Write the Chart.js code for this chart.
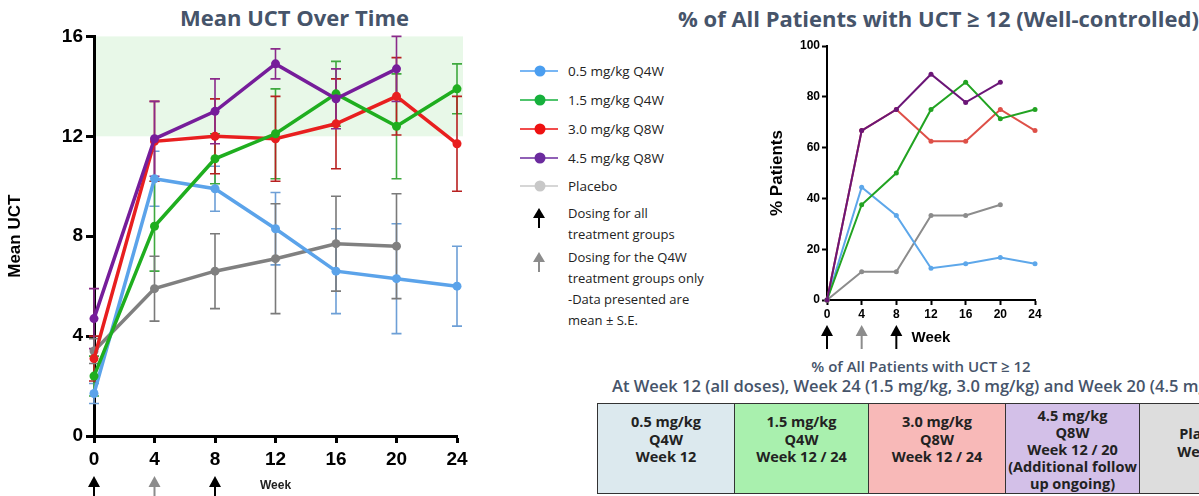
<!DOCTYPE html>
<html>
<head>
<meta charset="utf-8">
<script src="https://cdn.jsdelivr.net/npm/chart.js@4.4.1/dist/chart.umd.min.js"></script>
<style>
html, body { margin: 0; padding: 0; background: #fff; }
body { width: 1199px; height: 496px; overflow: hidden; position: relative; font-family: "Open Sans", sans-serif; }
.title { position: absolute; font-weight: 700; font-size: 22px; color: #46546a; white-space: nowrap; }
#leftWrap { position: absolute; left: 0; top: 22px; width: 480px; height: 474px; }
#rightWrap { position: absolute; left: 760px; top: 30px; width: 300px; height: 320px; }
#legend { position: absolute; left: 520px; top: 57px; font-size: 13.5px; color: #222; }
.row { height: 28.75px; display: flex; align-items: center; }
.row svg { margin-right: 10px; }
.note { position: absolute; left: 48px; line-height: 21px; font-size: 13px; white-space: nowrap; }
.arrow { position: absolute; left: 12px; }
.sub { position: absolute; font-weight: 600; color: #46546a; white-space: nowrap; }
#table { position: absolute; left: 597px; top: 403px; border-collapse: collapse; }
#table td { border: 1px solid #333; padding: 0; text-align: center; vertical-align: top;
  font-weight: 700; font-size: 14.5px; line-height: 17.5px; color: #222; }
</style>
</head>
<body>
<div class="title" style="left:180px;top:2px;">Mean UCT Over Time</div>
<div class="title" style="left:678px;top:3px;">% of All Patients with UCT ≥ 12 (Well-controlled)</div>

<div id="leftWrap"><canvas id="meanChart"></canvas></div>
<div id="rightWrap"><canvas id="pctChart"></canvas></div>

<div id="legend"></div>

<div class="sub" style="left:612px;width:618px;text-align:center;top:356px;font-size:15px;">% of All Patients with UCT ≥ 12</div>
<div class="sub" style="left:612px;top:374px;font-size:16.5px;">At Week 12 (all doses), Week 24 (1.5 mg/kg, 3.0 mg/kg) and Week 20 (4.5 mg/kg)</div>

<table id="table"><tr></tr></table>

<script>
const weeks = [0, 4, 8, 12, 16, 20, 24];
const seriesNames = ["0.5 mg/kg Q4W", "1.5 mg/kg Q4W", "3.0 mg/kg Q8W", "4.5 mg/kg Q8W", "Placebo"];

// mean UCT and standard error per week
const meanLow = [1.7, 10.3, 9.9, 8.3, 6.6, 6.3, 6.0];
const seLow = [0.4, 1.1, 0.9, 1.45, 1.7, 2.2, 1.6];
const meanMid = [2.4, 8.4, 11.1, 12.1, 13.7, 12.4, 13.9];
const seMid = [0.8, 1.8, 1.0, 1.8, 1.3, 2.1, 1.0];
const meanHigh = [3.1, 11.8, 12.0, 11.9, 12.5, 13.6, 11.7];
const seHigh = [0.9, 1.6, 1.5, 1.7, 1.8, 1.55, 1.9];
const meanTop = [4.7, 11.9, 13.0, 14.9, 13.5, 14.7, null];
const seTop = [1.2, 1.5, 1.3, 0.6, 1.2, 1.3, null];
const meanPlacebo = [3.4, 5.9, 6.6, 7.1, 7.7, 7.6, null];
const sePlacebo = [0.5, 1.3, 1.5, 2.2, 1.9, 2.1, null];

// % of patients with UCT >= 12
const pctLow = [0, 44.4, 33.3, 12.5, 14.3, 16.7, 14.3];
const pctMid = [0, 37.5, 50, 75, 85.7, 71.4, 75];
const pctHigh = [0, 66.7, 75, 62.5, 62.5, 75, 66.7];
const pctTop = [0, 66.7, 75, 88.9, 77.8, 85.7, null];
const pctPlacebo = [0, 11.1, 11.1, 33.3, 33.3, 37.5, null];

const doseWeeks = [0, 4, 8];
const doseAll = [true, false, true];

const tableCells = [
    ["0.5 mg/kg", "Q4W", "Week 12"],
    ["1.5 mg/kg", "Q4W", "Week 12 / 24"],
    ["3.0 mg/kg", "Q8W", "Week 12 / 24"],
    ["4.5 mg/kg", "Q8W", "Week 12 / 20", "(Additional follow", "up ongoing)"],
    ["Placebo", "Week 20"]
];

const lineColors = ["#5ba3ea", "#1fae1f", "#e81f1f", "#761d9a", "#808080"];
const errColors = ["#6d9fd6", "#3fa93f", "#b82020", "#8a2a8a", "#7a7a7a"];
const pctColors = ["#5da7ea", "#22a322", "#de5048", "#6b1677", "#8c8c8c"];
const legendColors = ["#4b9ef0", "#16b03c", "#ee1111", "#6b2b9e", "#c8c8c8"];
const cellColors = ["#dce9ee", "#a9f0ae", "#f8b9b8", "#d3c0e8", "#dddddd"];
const cellWidths = [136, 133, 136, 133, 135];
const cellPadTop = [9, 9, 9, 3, 21];

const toPoints = (vals) => weeks.map((w, i) => ({ x: w, y: vals[i] })).filter(p => p.y !== null);
const toSE = (se) => se.filter(v => v !== null);

const bandPlugin = {
    id: "band",
    beforeDatasetsDraw(chart) {
        const { ctx, chartArea, scales: { y } } = chart;
        ctx.save();
        ctx.fillStyle = "#e8f8e8";
        const top = y.getPixelForValue(16), bot = y.getPixelForValue(12);
        ctx.fillRect(chartArea.left + 2, top, chartArea.right - chartArea.left + 4, bot - top);
        ctx.restore();
    }
};

const errorBarPlugin = {
    id: "errorBars",
    beforeDatasetsDraw(chart) {
        const { ctx, scales: { y } } = chart;
        chart.data.datasets.forEach((ds, i) => {
            if (!ds.se) return;
            const meta = chart.getDatasetMeta(i);
            ctx.save();
            ctx.strokeStyle = ds.errColor;
            ctx.lineWidth = 1.6;
            meta.data.forEach((pt, j) => {
                const v = ds.data[j].y, e = ds.se[j];
                const top = y.getPixelForValue(v + e), bot = y.getPixelForValue(v - e);
                ctx.beginPath();
                ctx.moveTo(pt.x, top); ctx.lineTo(pt.x, bot);
                ctx.moveTo(pt.x - 5, top); ctx.lineTo(pt.x + 5, top);
                ctx.moveTo(pt.x - 5, bot); ctx.lineTo(pt.x + 5, bot);
                ctx.stroke();
            });
            ctx.restore();
        });
    }
};

const arrowPlugin = {
    id: "doseArrows",
    afterDraw(chart, args, opts) {
        const { ctx, chartArea, scales: { x } } = chart;
        doseWeeks.forEach((w, i) => {
            const px = x.getPixelForValue(w);
            const tip = chartArea.bottom + opts.offset;
            ctx.save();
            ctx.fillStyle = doseAll[i] ? "#000" : "#8c8c8c";
            ctx.beginPath();
            ctx.moveTo(px, tip);
            ctx.lineTo(px - 6, tip + 11);
            ctx.lineTo(px + 6, tip + 11);
            ctx.closePath();
            ctx.fill();
            ctx.fillRect(px - 1, tip + 10, 2, 14);
            ctx.restore();
        });
    }
};

function axisCommon(size, width, tickLen) {
    return {
        grid: { drawOnChartArea: false, drawTicks: true, tickLength: tickLen, tickWidth: width, tickColor: "#000" },
        border: { color: "#000", width: width },
        ticks: { color: "#000", font: { family: "Liberation Sans", weight: "bold", size: size } }
    };
}

// left chart: mean UCT
const meanSeries = [meanLow, meanMid, meanHigh, meanTop, meanPlacebo];
const meanErrors = [seLow, seMid, seHigh, seTop, sePlacebo];
const drawOrder = [4, 2, 3, 1, 5];

const leftX = axisCommon(19, 3, 7);
leftX.type = "linear"; leftX.min = 0; leftX.max = 24;
leftX.ticks.stepSize = 4; leftX.ticks.padding = 5;
leftX.title = { display: true, text: "Week", color: "#222", font: { family: "Liberation Sans", weight: "bold", size: 12 }, padding: { top: 2, bottom: 3 } };
leftX.afterFit = (s) => { s.height = 60; };

const leftY = axisCommon(19, 3, 8);
leftY.min = 0; leftY.max = 16;
leftY.ticks.stepSize = 4; leftY.ticks.padding = 3;
leftY.title = { display: true, text: "Mean UCT", color: "#000", font: { family: "Liberation Sans", weight: "bold", size: 17 }, padding: { top: 5, bottom: 0 } };
leftY.afterFit = (s) => { s.width = 94; };

new Chart(document.getElementById("meanChart"), {
    type: "line",
    data: {
        datasets: meanSeries.map((vals, i) => ({
            label: seriesNames[i],
            data: toPoints(vals),
            se: toSE(meanErrors[i]),
            errColor: errColors[i],
            borderColor: lineColors[i],
            backgroundColor: lineColors[i],
            borderWidth: 3.5,
            pointRadius: 4.5,
            pointBorderWidth: 0,
            order: drawOrder[i],
            clip: false,
            tension: 0
        }))
    },
    options: {
        responsive: true,
        maintainAspectRatio: false,
        animation: false,
        layout: { padding: { top: 12, right: 23, left: 0, bottom: 0 } },
        plugins: { legend: { display: false }, tooltip: { enabled: false }, doseArrows: { offset: 40 } },
        scales: { x: leftX, y: leftY }
    },
    plugins: [bandPlugin, errorBarPlugin, arrowPlugin]
});

// right chart: % patients
const pctSeries = [pctLow, pctMid, pctHigh, pctTop, pctPlacebo];

const rightX = axisCommon(12, 2, 5);
rightX.type = "linear"; rightX.min = 0; rightX.max = 24;
rightX.ticks.stepSize = 4; rightX.ticks.padding = 2;
rightX.title = { display: true, text: "Week", color: "#000", font: { family: "Liberation Sans", weight: "bold", size: 15 }, padding: { top: 2, bottom: 3 } };
rightX.afterFit = (s) => { s.height = 50; };

const rightY = axisCommon(12, 2, 5);
rightY.min = 0; rightY.max = 100;
rightY.ticks.stepSize = 20; rightY.ticks.padding = 2;
rightY.title = { display: true, text: "% Patients", color: "#000", font: { family: "Liberation Sans", weight: "bold", size: 17 }, padding: { top: 7, bottom: 0 } };
rightY.afterFit = (s) => { s.width = 67; };

new Chart(document.getElementById("pctChart"), {
    type: "line",
    data: {
        datasets: pctSeries.map((vals, i) => ({
            label: seriesNames[i],
            data: toPoints(vals),
            borderColor: pctColors[i],
            backgroundColor: pctColors[i],
            borderWidth: 2,
            pointRadius: 2.5,
            pointBorderWidth: 0,
            order: drawOrder[i],
            clip: false,
            tension: 0
        }))
    },
    options: {
        responsive: true,
        maintainAspectRatio: false,
        animation: false,
        layout: { padding: { top: 16, right: 25, left: 0, bottom: 0 } },
        plugins: { legend: { display: false }, tooltip: { enabled: false }, doseArrows: { offset: 25 } },
        scales: { x: rightX, y: rightY }
    },
    plugins: [arrowPlugin]
});

// legend
const legend = document.getElementById("legend");
seriesNames.forEach((name, i) => {
    const row = document.createElement("div");
    row.className = "row";
    row.innerHTML = `<svg width="38" height="12"><line x1="0" y1="6" x2="38" y2="6" stroke="${legendColors[i]}" stroke-width="1.5"/><circle cx="20" cy="6" r="5.5" fill="${legendColors[i]}"/></svg><span>${name}</span>`;
    legend.appendChild(row);
});
const notes = [
    { top: 146, color: "#000", lines: ["Dosing for all", "treatment groups"] },
    { top: 190, color: "#8c8c8c", lines: ["Dosing for the Q4W", "treatment groups only", "-Data presented are", "mean ± S.E."] }
];
notes.forEach(n => {
    const a = document.createElement("div");
    a.className = "arrow";
    a.style.top = (n.top + 5) + "px";
    a.innerHTML = `<svg width="14" height="20"><polygon points="7,0 1,10 13,10" fill="${n.color}"/><rect x="6" y="9" width="2" height="11" fill="${n.color}"/></svg>`;
    legend.appendChild(a);
    const t = document.createElement("div");
    t.className = "note";
    t.style.top = n.top + "px";
    t.innerHTML = n.lines.join("<br>");
    legend.appendChild(t);
});

// table
const tr = document.querySelector("#table tr");
tableCells.forEach((lines, i) => {
    const td = document.createElement("td");
    td.style.background = cellColors[i];
    td.style.width = cellWidths[i] + "px";
    td.style.minWidth = cellWidths[i] + "px";
    td.style.paddingTop = cellPadTop[i] + "px";
    td.style.height = (89 - cellPadTop[i]) + "px";
    if (lines.length > 4) td.style.lineHeight = "17px";
    td.innerHTML = lines.join("<br>");
    tr.appendChild(td);
});
</script>
</body>
</html>
